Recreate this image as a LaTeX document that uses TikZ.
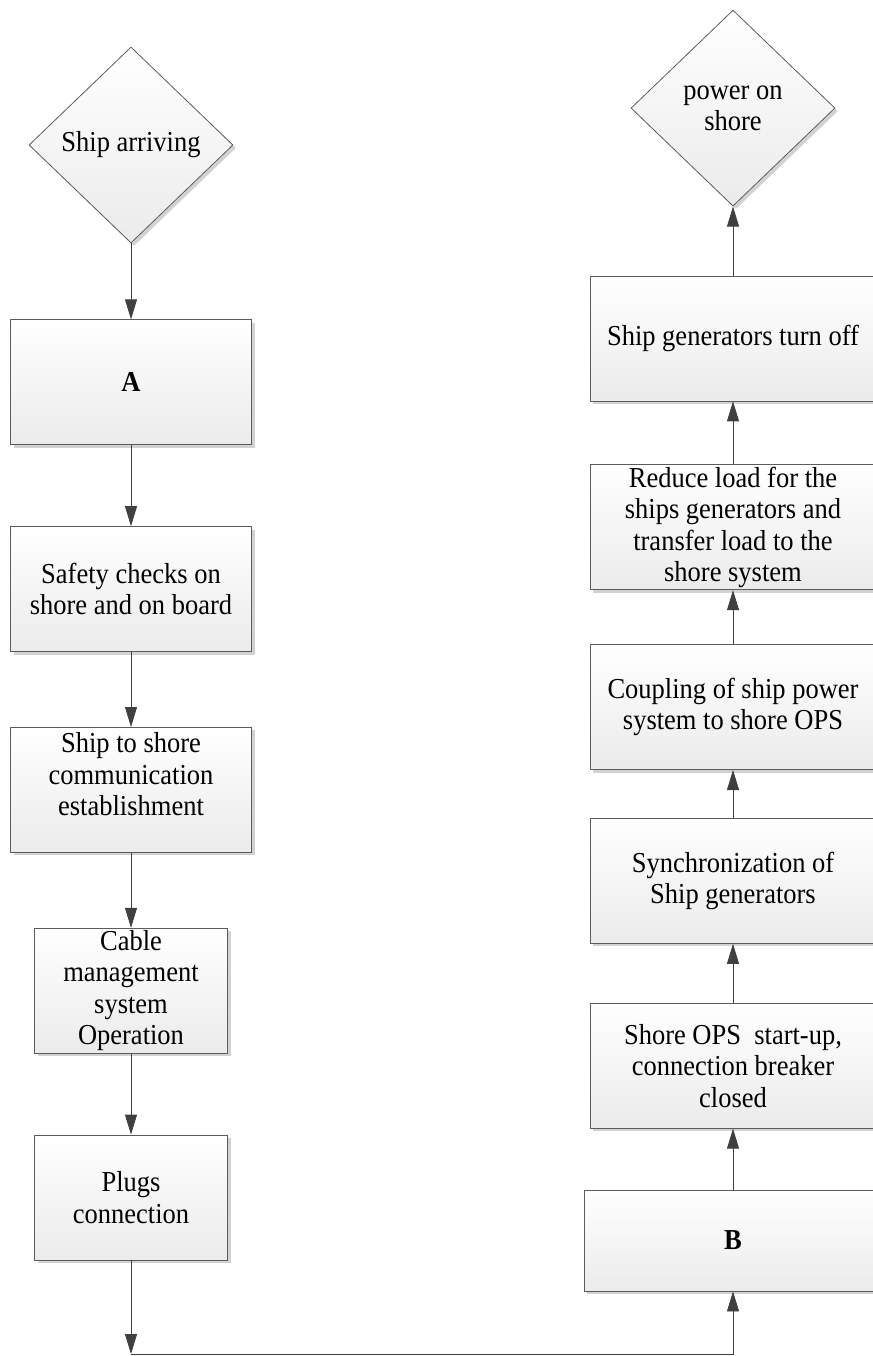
\documentclass[tikz,border=0pt]{standalone}
\usepackage{fontspec}
\setmainfont{Liberation Serif}[FakeStretch=0.917]
\usepackage{xcolor}
\definecolor{linecolor}{HTML}{404040}
\definecolor{bordercolor}{HTML}{5c5c5c}
\definecolor{fillbottom}{HTML}{ebebeb}
\definecolor{shadowcolor}{HTML}{d2d2d2}
\usepackage{tikz}
\usetikzlibrary{positioning,arrows.meta,shapes.geometric,shadows}
\tikzset{
    stepbox/.style={
        rectangle,
        draw=bordercolor,
        top color=white,
        bottom color=fillbottom,
        minimum width=241pt,
        minimum height=125pt,
        align=center,
        inner sep=2pt,
        line width=0.8pt,
        font=\fontsize{28.9}{31.5}\selectfont,
        drop shadow={shadow xshift=3pt, shadow yshift=-3pt, fill=shadowcolor, opacity=1},
    },
    narrowbox/.style={
        stepbox,
        minimum width=193pt,
    },
    widebox/.style={
        stepbox,
        minimum width=286pt,
    },
    decision/.style={
        diamond,
        draw=bordercolor,
        top color=white,
        bottom color=fillbottom,
        minimum width=204pt,
        minimum height=196pt,
        inner sep=0pt,
        align=center,
        line width=0.8pt,
        font=\fontsize{28.9}{31.5}\selectfont,
        drop shadow={shadow xshift=3pt, shadow yshift=-3pt, fill=shadowcolor, opacity=1},
    },
    flow/.style={
        -{Triangle[length=20pt,width=12pt]},
        line width=0.8pt,
        linecolor,
    },
}

\begin{document}
\begin{tikzpicture}[x=1pt,y=1pt]
    \useasboundingbox (0,0) rectangle (872,-1356);

    % left column, top to bottom
    \node[decision] (arrive) at (131,-145) {Ship arriving};
    \node[stepbox, below=76pt of arrive] (boxA) {\textbf{A}};
    \node[stepbox, below=81pt of boxA] (safety) {Safety checks on\\shore and on board};
    \node[stepbox, below=75pt of safety] (comm) {Ship to shore\\communication\\establishment\\~};
    \node[narrowbox, below=75pt of comm] (cable) {Cable\\management\\system\\Operation};
    \node[narrowbox, below=81pt of cable] (plugs) {Plugs\\connection};

    % right column, bottom to top
    \node[widebox, minimum width=298pt, minimum height=101pt] (boxB) at (733,-1240.5) {\textbf{B}};
    \node[widebox, above=61pt of boxB] (startup) {Shore OPS\ \ start-up,\\connection breaker\\closed};
    \node[widebox, above=59pt of startup] (sync) {Synchronization of\\Ship generators};
    \node[widebox, above=48pt of sync] (coupling) {Coupling of ship power\\system to shore OPS};
    \node[widebox, above=54pt of coupling] (reduce) {Reduce load for the\\ships generators and\\transfer load to the\\shore system};
    \node[widebox, above=63pt of reduce] (genoff) {Ship generators turn off};
    \node[decision, above=69pt of genoff] (poweron) {power on\\shore};

    \coordinate (turn) at (plugs.south |- 0,-1354);

    \draw[flow] (arrive) -- (boxA);
    \draw[flow] (boxA) -- (safety);
    \draw[flow] (safety) -- (comm);
    \draw[flow] (comm) -- (cable);
    \draw[flow] (cable) -- (plugs);
    \draw[flow] (plugs) -- (turn);
    \draw[flow] (turn) -| (boxB);
    \draw[flow] (boxB) -- (startup);
    \draw[flow] (startup) -- (sync);
    \draw[flow] (sync) -- (coupling);
    \draw[flow] (coupling) -- (reduce);
    \draw[flow] (reduce) -- (genoff);
    \draw[flow] (genoff) -- (poweron);
\end{tikzpicture}
\end{document}
